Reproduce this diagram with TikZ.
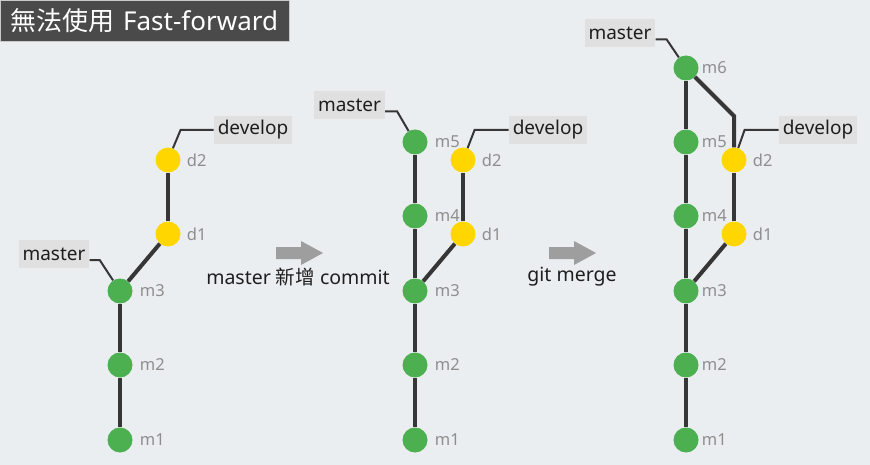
\documentclass[tikz,border=0pt]{standalone}
\usepackage{fontspec}
\setmainfont{Noto Sans}
\newfontfamily\cjk{Noto Sans CJK TC}
\usetikzlibrary{positioning,arrows.meta,calc}

\definecolor{bgcol}{HTML}{EBEEF1}
\definecolor{titlecol}{HTML}{4A4A4A}
\definecolor{mgreen}{HTML}{4CAF50}
\definecolor{dyellow}{HTML}{FFD600}
\definecolor{edgecol}{HTML}{363636}
\definecolor{tagcol}{HTML}{E0E0E0}
\definecolor{lblgray}{HTML}{8E8E8E}
\definecolor{arrowgray}{HTML}{9E9E9E}
\definecolor{textcol}{HTML}{1E1E1E}

\begin{document}
\begin{tikzpicture}[x=1pt,y=-1pt,
  commit/.style={circle,inner sep=0pt,minimum size=25pt},
  mnode/.style={commit,fill=mgreen},
  dnode/.style={commit,fill=dyellow},
  clbl/.style={font=\fontsize{16.5}{16.5}\selectfont,text=lblgray,inner sep=0pt,label distance=7pt},
  tagbox/.style={fill=tagcol,text=textcol,font=\fontsize{19}{19}\selectfont,inner xsep=4pt,minimum height=28pt},
  edge/.style={draw=edgecol,line width=4pt},
  tagline/.style={draw=edgecol,line width=2pt},
  blockarrow/.style={fill=arrowgray},
  actlbl/.style={text=textcol,font=\fontsize{19.5}{19.5}\selectfont,inner sep=0pt}]
\useasboundingbox (0,0) rectangle (870,465);
\fill[bgcol] (0,0) rectangle (870,465);

% title bar
\node[fill=titlecol,draw=white!70!titlecol,line width=1pt,text=white,anchor=north west,
      minimum width=289pt,minimum height=41pt,inner xsep=10pt,text width=269pt,align=left,
      font=\fontsize{26}{26}\selectfont] (title) at (0,0) {{\cjk 無法使用} Fast-forward};

% before: master at m3, develop at d2
\foreach \i/\y in {1/440,2/365,3/291}
  \node[mnode,label={[clbl]right:m\i}] (lm\i) at (120,\y) {};
\node[dnode,label={[clbl,label distance=6pt]right:d1}] (ld1) at (168,234) {};
\node[dnode,label={[clbl,label distance=6pt]right:d2}] (ld2) at (168,160) {};
\draw[edge] (lm1) -- (lm2);
\draw[edge] (lm2) -- (lm3);
\draw[edge] (lm3) -- (ld1);
\draw[edge] (ld1) -- (ld2);
\node[tagbox] (lmtag) at (54,254) {master};
\node[tagbox] (ldtag) at (253,130) {develop};
\draw[tagline] ([yshift=-6pt]lmtag.east) -- ++(10,0) -- (lm3);
\draw[tagline] (ldtag.west) -- ++(-33,0) -- (ld2);

% step 1
\coordinate (arrA) at (276,253);
\fill[blockarrow] (arrA) ++(0,-6) -- ++(25,0) -- ++(0,-6) -- ++(22,12) -- ++(-22,12) -- ++(0,-6) -- ++(-25,0) -- cycle;
\node[actlbl] (actA) at (298,277) {master {\cjk 新增} commit};

% after new commits on master
\foreach \i/\y in {1/440,2/365,3/291,4/216,5/142}
  \node[mnode,label={[clbl]right:m\i}] (cm\i) at (415,\y) {};
\node[dnode,label={[clbl,label distance=6pt]right:d1}] (cd1) at (463,234) {};
\node[dnode,label={[clbl,label distance=6pt]right:d2}] (cd2) at (463,160) {};
\foreach \a/\b in {1/2,2/3,3/4,4/5}
  \draw[edge] (cm\a) -- (cm\b);
\draw[edge] (cm3) -- (cd1);
\draw[edge] (cd1) -- (cd2);
\node[tagbox] (cmtag) at (349.5,105.5) {master};
\node[tagbox] (cdtag) at (548,130) {develop};
\draw[tagline] ([yshift=-6pt]cmtag.east) -- ++(12,0) -- (cm5);
\draw[tagline] (cdtag.west) -- ++(-34,0) -- (cd2);

% step 2
\coordinate (arrB) at (549,253);
\fill[blockarrow] (arrB) ++(0,-6) -- ++(25,0) -- ++(0,-6) -- ++(22,12) -- ++(-22,12) -- ++(0,-6) -- ++(-25,0) -- cycle;
\node[actlbl] (actB) at (572,277) {git merge};

% after merge
\foreach \i/\y in {1/440,2/365,3/291,4/216,5/142,6/68}
  \node[mnode,label={[clbl,label distance=3pt]right:m\i}] (rm\i) at (686,\y) {};
\node[dnode,label={[clbl,label distance=6pt]right:d1}] (rd1) at (734,234) {};
\node[dnode,label={[clbl,label distance=6pt]right:d2}] (rd2) at (734,160) {};
\foreach \a/\b in {1/2,2/3,3/4,4/5,5/6}
  \draw[edge] (rm\a) -- (rm\b);
\draw[edge] (rm3) -- (rd1);
\draw[edge] (rd1) -- (rd2);
\coordinate (rbend) at (734,116);
\draw[edge] (rm6) -- (rbend) -- (rd2);
\node[tagbox] (rmtag) at (620,33.5) {master};
\node[tagbox] (rdtag) at (818,130) {develop};
\draw[tagline] ([yshift=-6pt]rmtag.east) -- ++(11,0) -- (rm6);
\draw[tagline] (rdtag.west) -- ++(-34,0) -- (rd2);
\end{tikzpicture}
\end{document}
